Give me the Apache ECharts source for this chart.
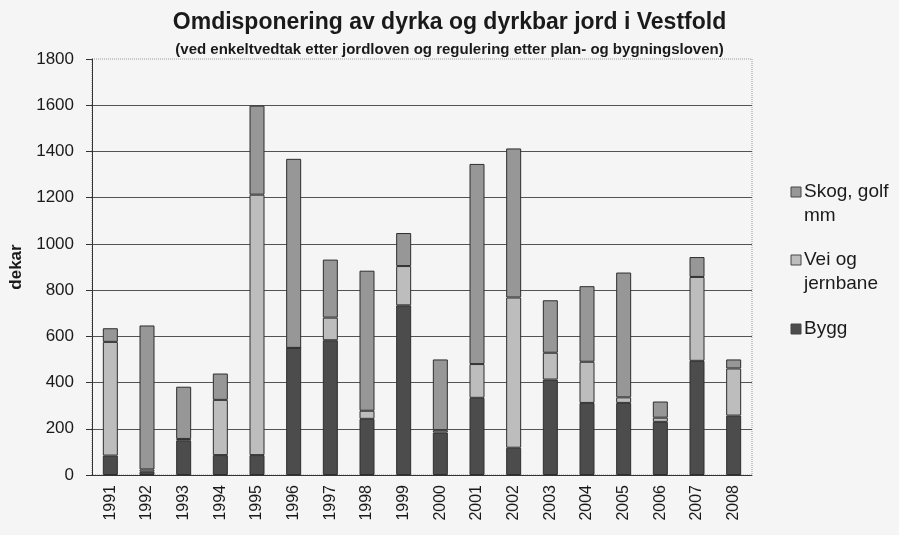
<!DOCTYPE html>
<html>
<head>
<meta charset="utf-8">
<script src="https://cdn.jsdelivr.net/npm/echarts@6/dist/echarts.min.js"></script>
<style>
  html, body { margin: 0; padding: 0; background: #f6f5f5; }
  #main { width: 899px; height: 535px; }
</style>
</head>
<body>
<div id="main"></div>
<script>
  // år
  var years = ['1991','1992','1993','1994','1995','1996','1997','1998','1999',
               '2000','2001','2002','2003','2004','2005','2006','2007','2008'];
  // dekar per kategori (lest av figuren)
  var bygg = [84, 14, 150, 86, 86, 550, 583, 243, 734, 184, 334, 118, 413, 312, 312, 230, 494, 257];
  var vei  = [492, 10, 6, 239, 1127, 0, 98, 35, 170, 10, 146, 650, 116, 178, 24, 18, 363, 204];
  var skog = [59, 623, 226, 114, 385, 818, 251, 606, 143, 306, 866, 645, 227, 327, 540, 70, 86, 39];
  var yTicks = [0, 1800, 200];

  var colBygg = '#4c4c4c', colVei = '#bdbdbd', colSkog = '#979797';
  var font = 'Liberation Sans, Arial, sans-serif';

  var dom = echarts.init(document.getElementById('main'));

  function bar(name, data, color) {
    return {
      name: name,
      type: 'bar',
      stack: 'total',
      barWidth: 15,
      data: data,
      itemStyle: { color: color, borderColor: '#2e2e2e', borderWidth: 1 }
    };
  }

  function legendItem(y, color, lines) {
    var items = [{
      type: 'rect',
      shape: { x: 791, y: y - 5, width: 10, height: 10 },
      style: { fill: color, stroke: '#444', lineWidth: 1 }
    }];
    lines.forEach(function (t, i) {
      items.push({
        type: 'text',
        x: 804, y: y + i * 24,
        style: { text: t, font: '19px ' + font, fill: '#1a1a1a', textVerticalAlign: 'middle' }
      });
    });
    return items;
  }

  var option = {
    backgroundColor: '#f6f5f5',
    animation: false,
    title: [{
      text: 'Omdisponering av dyrka og dyrkbar jord i Vestfold',
      left: 'center', top: 6,
      textStyle: { fontFamily: font, fontWeight: 'bold', fontSize: 23, color: '#1a1a1a' }
    }, {
      text: '(ved enkeltvedtak etter jordloven og regulering etter plan- og bygningsloven)',
      left: 'center', top: 37,
      textStyle: { fontFamily: font, fontWeight: 'bold', fontSize: 15, color: '#1a1a1a' }
    }],
    legend: { show: false },
    grid: {
      left: 92, right: 147, top: 59, bottom: 60,
      outerBoundsMode: 'none',
      containLabel: false,
      show: true, borderColor: '#9a9a9a', borderWidth: 1, borderType: 'dotted'
    },
    xAxis: {
      type: 'category',
      data: years,
      axisLine: { lineStyle: { color: '#333', width: 1 } },
      axisTick: { length: 6, lineStyle: { color: '#333' } },
      axisLabel: { rotate: 90, margin: 10, fontFamily: font, fontSize: 16, color: '#1a1a1a' }
    },
    yAxis: {
      type: 'value',
      min: yTicks[0], max: yTicks[1], interval: yTicks[2],
      name: 'dekar',
      nameLocation: 'middle',
      nameGap: 64,
      nameTextStyle: { fontFamily: font, fontWeight: 'bold', fontSize: 17, color: '#1a1a1a' },
      axisLine: { show: true, lineStyle: { color: '#333', width: 1 } },
      axisTick: { show: true, length: 6, lineStyle: { color: '#333' } },
      axisLabel: {
        margin: 18, fontFamily: font, fontSize: 17, color: '#1a1a1a',
        formatter: function (v) { return String(v); }
      },
      splitLine: { show: true, showMaxLine: false, lineStyle: { color: '#4f5553', width: 1 } }
    },
    series: [
      bar('Bygg', bygg, colBygg),
      bar('Vei og jernbane', vei, colVei),
      bar('Skog, golf mm', skog, colSkog)
    ],
    graphic: [].concat(
      legendItem(192, colSkog, ['Skog, golf', 'mm']),
      legendItem(260, colVei, ['Vei og', 'jernbane']),
      legendItem(329, colBygg, ['Bygg'])
    )
  };

  dom.setOption(option);
</script>
</body>
</html>
